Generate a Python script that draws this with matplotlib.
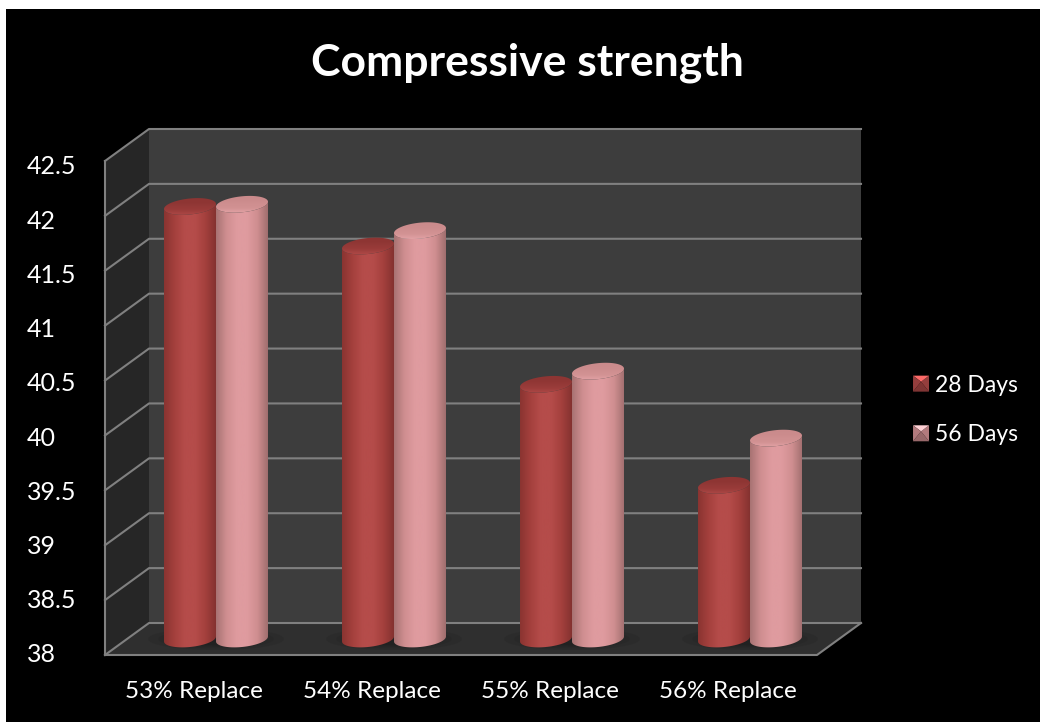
import numpy as np
import matplotlib
matplotlib.use("Agg")
import matplotlib.pyplot as plt
from matplotlib.colors import LinearSegmentedColormap, to_rgb
from matplotlib.legend_handler import HandlerBase
from matplotlib.patches import PathPatch, Patch, Polygon, Rectangle
from matplotlib.path import Path
from matplotlib.transforms import ScaledTranslation

categories = ["53% Replace", "54% Replace", "55% Replace", "56% Replace"]
series_names = ["28 Days", "56 Days"]
days_28 = [41.94, 41.58, 40.32, 39.40]
days_56 = [41.96, 41.72, 40.44, 39.83]
y_ticks = [38, 38.5, 39, 39.5, 40, 40.5, 41, 41.5, 42, 42.5]
y_labels = ["38", "38.5", "39", "39.5", "40", "40.5", "41", "41.5", "42", "42.5"]

W, H = 1040, 722
BG = "#000000"
GRID = "#808080"

# front plane of the 3d box, in pixels
LEFT, RIGHT, TOP, BOTTOM = 105, 817, 161, 655
DEPTH_X, DEPTH_Y = 44, 32

plt.rcParams["font.family"] = ["Lato", "DejaVu Sans"]

fig = plt.figure(figsize=(W / 100, H / 100), dpi=100, facecolor=BG)

# white sliver along the top and left edge
fig.add_artist(Rectangle((0, 1 - 9 / H), 1, 9 / H, transform=fig.transFigure, facecolor="white", lw=0))
fig.add_artist(Rectangle((0, 0), 6 / W, 1, transform=fig.transFigure, facecolor="white", lw=0))

ax = fig.add_axes([LEFT / W, 1 - BOTTOM / H, (RIGHT - LEFT) / W, (BOTTOM - TOP) / H], facecolor="none")
ax.set_xlim(0, len(categories))
ax.set_ylim(38, 42.5)

px_x = len(categories) / (RIGHT - LEFT)
px_y = 4.5 / (BOTTOM - TOP)


def sheared(x, y, depth):
    # oblique projection: depth runs from 0 (front) to 1 (back wall)
    return x + depth * DEPTH_X * px_x, y + depth * DEPTH_Y * px_y


def poly(points, **kw):
    ax.add_patch(Polygon([sheared(*p) for p in points], closed=True, clip_on=False, **kw))


def line(points, **kw):
    xy = np.array([sheared(*p) for p in points])
    ax.plot(xy[:, 0], xy[:, 1], color=GRID, lw=1.5, clip_on=False, solid_capstyle="projecting", **kw)


n = len(categories)
poly([(0, 38, 1), (n, 38, 1), (n, 42.5, 1), (0, 42.5, 1)], facecolor="#3d3d3d", edgecolor="none", zorder=1)
poly([(0, 38, 0), (0, 38, 1), (0, 42.5, 1), (0, 42.5, 0)], facecolor="#262626", edgecolor="none", zorder=1)
poly([(0, 38, 0), (n, 38, 0), (n, 38, 1), (0, 38, 1)], facecolor="#2f2f2f", edgecolor="none", zorder=1)

for t in y_ticks:
    line([(0, t, 0), (0, t, 1), (n, t, 1)], zorder=2)
line([(0, 38, 0), (0, 42.5, 0)], zorder=2)
line([(0, 38, 0), (n, 38, 0), (n, 38, 1)], zorder=2)

cmap_dark = LinearSegmentedColormap.from_list(
    "dark", ["#8a3431", "#a4403d", "#b54c4a", "#b54c4a", "#a4403d", "#843230"])
cmap_light = LinearSegmentedColormap.from_list(
    "light", ["#a87373", "#cf8e90", "#df9b9f", "#df9b9f", "#cf8e90", "#a06e6e"])
top_dark = LinearSegmentedColormap.from_list("top_dark", ["#8d3533", "#8f3634", "#9a3c3a", "#b44c4a"])
top_light = LinearSegmentedColormap.from_list("top_light", ["#c98a8b", "#cc8c8d", "#d29293", "#e8a8ab"])

BAR_W = 52 * px_x
HALF_A = 26
HALF_B = 8
TILT = 2.5


def ellipse_xy(cx, cy, t):
    x = cx + HALF_A * px_x * np.cos(t)
    y = cy + (HALF_B * np.sin(t) + TILT * np.cos(t)) * px_y
    return x, y


def cylinder(cx, value, body, cap, z):
    # bars stand halfway into the box
    _, base_y = sheared(0, 38, 0.5)
    _, top_y = sheared(0, value, 0.5)
    t_front = np.linspace(np.pi, 2 * np.pi, 50)
    t_back = t_front[::-1]
    bx, by = ellipse_xy(cx, base_y, t_front)
    tx, ty = ellipse_xy(cx, top_y, t_back)
    body_path = Path(np.column_stack([np.r_[bx, tx], np.r_[by, ty]]))
    img = ax.imshow(np.linspace(0, 1, 128)[None, :], cmap=body, aspect="auto", zorder=z,
                    extent=(cx - BAR_W / 2, cx + BAR_W / 2, 37.5, top_y + 0.5))
    img.set_clip_path(PathPatch(body_path, transform=ax.transData))

    t = np.linspace(0, 2 * np.pi, 100)
    ex, ey = ellipse_xy(cx, top_y, t)
    cap_path = Path(np.column_stack([ex, ey]))
    cap_img = ax.imshow(np.linspace(0, 1, 64)[:, None], cmap=cap, aspect="auto", zorder=z + 0.1, origin="upper",
                        extent=(cx - BAR_W / 2, cx + BAR_W / 2,
                                top_y - (HALF_B + TILT) * px_y, top_y + (HALF_B + TILT) * px_y))
    cap_img.set_clip_path(PathPatch(cap_path, transform=ax.transData))


def floor_shadow(cx):
    # soft dark pool on the floor around each pair of bars
    _, base_y = sheared(0, 38, 0.5)
    for grow, alpha in zip([1.0, 0.85, 0.7, 0.55], [0.18, 0.2, 0.25, 0.3]):
        t = np.linspace(0, 2 * np.pi, 80)
        x = cx + grow * 68 * px_x * np.cos(t)
        y = base_y + grow * 11 * np.sin(t) * px_y
        ax.fill(x, y, color="#1c1c1c", alpha=alpha, lw=0, zorder=2.5, clip_on=False)


centers = np.arange(n) + 0.5
for i, c in enumerate(centers):
    cx, _ = sheared(c, 38, 0.5)
    floor_shadow(cx)
    cylinder(cx - BAR_W / 2, days_28[i], cmap_dark, top_dark, 3)
    cylinder(cx + BAR_W / 2, days_56[i], cmap_light, top_light, 4)

ax.set_xlim(0, n)
ax.set_ylim(38, 42.5)

ax.set_xticks(centers)
ax.set_xticklabels(categories)
ax.set_yticks(y_ticks)
ax.set_yticklabels(y_labels)
ax.tick_params(axis="x", length=0, pad=19, labelsize=17.5, colors="white")
ax.tick_params(axis="y", length=0, pad=56, labelsize=18, colors="white")
# the labels run on a slightly tighter pitch than the front edge of the wall
for lab, t in zip(ax.get_yticklabels(), y_ticks):
    lab.set_ha("left")
    shift = -4 + 6 * (42.5 - t) / 4.5
    lab.set_transform(lab.get_transform() + ScaledTranslation(0, shift / 100, fig.dpi_scale_trans))
for s in ax.spines.values():
    s.set_visible(False)

fig.text(527 / W, 1 - 63 / H, "Compressive strength", color="white", fontsize=32,
         fontweight="bold", ha="center", va="center")


class BevelHandler(HandlerBase):
    # square key with four shaded facets, brightest on top
    def create_artists(self, legend, orig, xd, yd, w, h, fontsize, trans):
        base = np.array(to_rgb(orig.get_facecolor()))
        s = 16 * 0.72
        x0 = -xd + (w - s) / 2
        y0 = -yd + (h - s) / 2
        m = (x0 + s / 2, y0 + s / 2 + s * 0.12)
        c = [(x0, y0), (x0 + s, y0), (x0 + s, y0 + s), (x0, y0 + s)]
        faces = [
            ([c[0], c[1], m], 0.7),
            ([c[1], c[2], m], 0.82),
            ([c[2], c[3], m], 1.4),
            ([c[3], c[0], m], 0.82),
        ]
        return [Polygon(pts, closed=True, lw=0, transform=trans,
                        facecolor=np.clip(base * k, 0, 1)) for pts, k in faces]


handles = [Patch(facecolor="#b54c4a", label=series_names[0]),
           Patch(facecolor="#d99598", label=series_names[1])]
leg = fig.legend(handles=handles, loc="center left", bbox_to_anchor=(913 / W, 1 - 410 / H),
                 frameon=False, fontsize=16.5, labelcolor="white", labelspacing=1.25,
                 handlelength=0.7, handletextpad=0.26, borderpad=0, borderaxespad=0,
                 handler_map={Patch: BevelHandler()})

fig.savefig("out.png", dpi=100, facecolor=BG)
